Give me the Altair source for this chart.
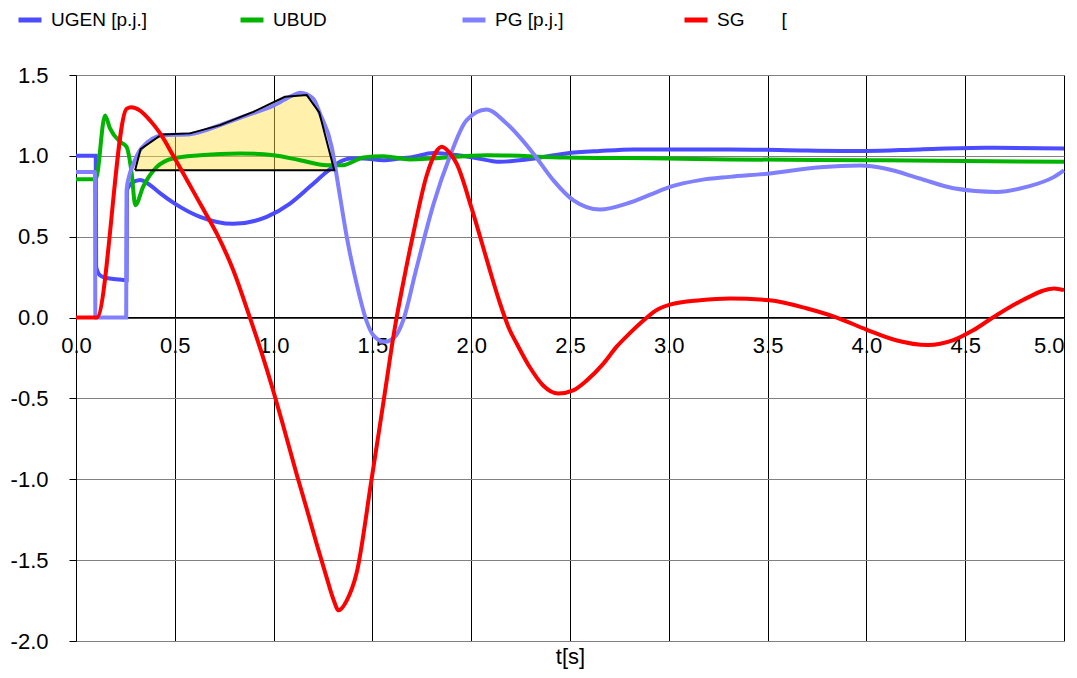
import altair as alt
import pandas as pd

FONT = "Liberation Sans"
NBSP = "\u00a0"

# ---- data ----
ugen_t = [0, 0.100, 0.102, 0.121, 0.155, 0.206, 0.256, 0.258, 0.28, 0.324,
          0.374, 0.425, 0.50, 0.628, 0.796, 0.965, 1.083, 1.184, 1.268, 1.336,
          1.387, 1.454, 1.555, 1.64, 1.69, 1.81, 1.89, 2.01, 2.146, 2.28,
          2.48, 2.65, 2.82, 2.99, 3.31, 3.6, 4.0, 4.27, 4.6, 5.0]
ugen_v = [1.0, 1.0, 0.313, 0.262, 0.245, 0.237, 0.231, 0.79, 0.83, 0.85,
          0.82, 0.77, 0.705, 0.623, 0.58, 0.623, 0.705, 0.81, 0.90, 0.963,
          0.984, 0.984, 0.973, 0.984, 0.99, 1.018, 1.01, 0.99, 0.963, 0.977,
          1.015, 1.03, 1.04, 1.04, 1.04, 1.035, 1.03, 1.04, 1.05, 1.046]

ubud_t = [0, 0.100, 0.147, 0.172, 0.223, 0.256, 0.282, 0.30, 0.34, 0.408, 0.49, 0.627, 0.83, 1.0,
          1.134, 1.27, 1.35, 1.454, 1.555, 1.69, 2.08, 2.48, 2.99, 3.31, 4.0, 5.0]
ubud_v = [0.856, 0.856, 1.25, 1.17, 1.087, 1.056, 0.89, 0.695, 0.81, 0.93, 0.984, 1.004, 1.015, 1.004,
          0.973, 0.942, 0.942, 0.99, 0.998, 0.978, 1.004, 0.99, 0.984, 0.978, 0.973, 0.963]

pg_t = [0, 0.096, 0.098, 0.254, 0.256, 0.27, 0.29, 0.33, 0.44, 0.577, 0.729, 0.864, 0.999, 1.1, 1.134,
        1.2, 1.235, 1.294, 1.328, 1.37, 1.42, 1.47, 1.505, 1.563, 1.62, 1.655, 1.72, 1.81, 1.89, 1.976,
        2.077, 2.179, 2.314, 2.415, 2.516, 2.652, 2.787, 2.92, 3.006, 3.158, 3.31, 3.50, 3.765, 3.97,
        4.10, 4.27, 4.44, 4.66, 4.81, 4.95, 5.0]
pg_v = [0.90, 0.90, 0.0, 0.0, 0.79, 0.88, 0.95, 1.046, 1.128, 1.134, 1.19, 1.25, 1.31, 1.376, 1.39,
        1.355, 1.26, 1.056, 0.81, 0.50, 0.21, -0.02, -0.11, -0.15, -0.11, -0.02, 0.29, 0.705, 0.99, 1.22,
        1.287, 1.20, 1.015, 0.85, 0.726, 0.668, 0.705, 0.767, 0.808, 0.85, 0.87, 0.89, 0.93, 0.94,
        0.92, 0.86, 0.80, 0.777, 0.808, 0.87, 0.91]

sg_t = [0, 0.105, 0.256, 0.28, 0.30, 0.324, 0.374, 0.425, 0.50, 0.628,
        0.712, 0.796, 0.88, 0.94, 1.0, 1.049, 1.117, 1.167, 1.218, 1.269,
        1.302, 1.329, 1.37, 1.42, 1.495, 1.555, 1.614, 1.66, 1.707,
        1.775, 1.82, 1.851, 1.89, 1.927, 2.0, 2.045, 2.095, 2.146, 2.196,
        2.23, 2.296, 2.364, 2.44, 2.516, 2.584, 2.669, 2.736, 2.804, 2.87,
        2.93, 3.006, 3.158, 3.31, 3.51, 3.70, 3.85, 4.0, 4.15, 4.31,
        4.44, 4.54, 4.64, 4.79, 4.95, 5.0]
sg_v = [0, 0, 1.29, 1.30, 1.295, 1.28, 1.22, 1.14, 0.984, 0.705,
        0.52, 0.293, 0.0, -0.22, -0.46, -0.67, -0.97, -1.18, -1.40, -1.61,
        -1.74, -1.81, -1.75, -1.58, -1.007, -0.53, -0.06, 0.24, 0.52,
        0.88, 1.02, 1.056, 1.02, 0.95, 0.684, 0.5, 0.29, 0.087, -0.08,
        -0.16, -0.306, -0.42, -0.47, -0.45, -0.39, -0.285, -0.18, -0.095, -0.02,
        0.04, 0.08, 0.107, 0.118, 0.107, 0.056, 0.0, -0.074, -0.14, -0.17,
        -0.14, -0.079, 0.0, 0.107, 0.18, 0.17]

# shaded region (top edge, flat bottom)
zone_t = [0.299, 0.327, 0.434, 0.577, 0.729, 0.897, 1.057, 1.168, 1.231, 1.307]
zone_v = [0.911, 1.041, 1.132, 1.139, 1.19, 1.272, 1.365, 1.376, 1.268, 0.911]
zone_base = 0.911

names = ["UGEN [p.j.]", "UBUD", "PG [p.j.]", "SG" + NBSP * 7 + "["]
colors = ["#4B4BFF", "#00B400", "#8080FF", "#FF0000"]
x_ticks = [0, 0.5, 1, 1.5, 2, 2.5, 3, 3.5, 4, 4.5, 5]
y_ticks = [-2, -1.5, -1, -0.5, 0, 0.5, 1, 1.5]


def frame(name, ts, vs):
    return pd.DataFrame({"t": ts, "v": vs, "series": name, "i": list(range(len(ts)))})


lines_df = pd.concat([
    frame(names[0], ugen_t, ugen_v),
    frame(names[1], ubud_t, ubud_v),
    frame(names[2], pg_t, pg_v),
    frame(names[3], sg_t, sg_v),
], ignore_index=True)

zone_df = pd.DataFrame({"t": zone_t, "v": zone_v, "base": zone_base})
outline_t = zone_t + [zone_t[0]]
outline_v = zone_v + [zone_v[0]]
outline_df = pd.DataFrame({"t": outline_t, "v": outline_v, "i": list(range(len(outline_t)))})

X = alt.X("t:Q", scale=alt.Scale(domain=[0, 5], nice=False, zero=False),
          axis=alt.Axis(values=x_ticks, title="t[s]", offset=-323.7, format=".1f",
                        labelAlign={"condition": {"test": "datum.value >= 5", "value": "right"},
                                    "value": "center"},
                        grid=True, gridColor="#000000", gridWidth=1, gridOpacity=1,
                        ticks=False, domainColor="#000000", domainWidth=1.5,
                        labelFont=FONT, labelFontSize=22, labelColor="#000", labelPadding=18,
                        labelFlush=False,
                        titleFont=FONT, titleFontSize=22, titleFontWeight="normal",
                        titleColor="#000", titleY=346, titleBaseline="alphabetic"))
Y = alt.Y("v:Q", scale=alt.Scale(domain=[-2, 1.5], nice=False, zero=False),
          axis=alt.Axis(values=y_ticks, title=None, grid=True, gridColor="#808080", gridWidth=1,
                        labelExpr="(datum.value < 0 ? '-' : '') + format(abs(datum.value), '.1f')",
                        tickColor="#000", tickSize=7, domainColor="#000", domainWidth=1,
                        labelFont=FONT, labelFontSize=22, labelColor="#000", labelPadding=21))

zone_fill = alt.Chart(zone_df).mark_area(color="#FFDD44", opacity=0.45).encode(
    x=X, y=Y, y2="base:Q")

color = alt.Color("series:N", scale=alt.Scale(domain=names, range=colors),
                  legend=alt.Legend(orient="none", legendX=-60, legendY=-69, direction="horizontal",
                                    columns=4, gridAlign="all", columnPadding=82, title=None,
                                    symbolType="stroke", symbolSize=529, symbolStrokeWidth=5,
                                    labelFont=FONT, labelFontSize=19, labelOffset=7,
                                    labelColor="#000", labelLimit=300, padding=0))

base_lines = alt.Chart(lines_df).mark_line(strokeWidth=4, interpolate="monotone").encode(
    x=X, y=Y, color=color, order="i:Q")

non_red = base_lines.transform_filter(alt.datum.series != names[3])
red = base_lines.transform_filter(alt.datum.series == names[3])

outline = alt.Chart(outline_df).mark_line(color="#000000", strokeWidth=2).encode(
    x=X, y=Y, order="i:Q")

chart = alt.layer(zone_fill, non_red, outline, red).properties(
    width=988, height=566,
    autosize=alt.AutoSizeParams(type="none"),
    padding={"left": 68, "top": 67, "right": 5, "bottom": 29},
).configure_view(stroke="#000000", strokeWidth=1).configure(background="#ffffff")

chart.save("out.html", embed_options={"renderer": "svg", "actions": False})
